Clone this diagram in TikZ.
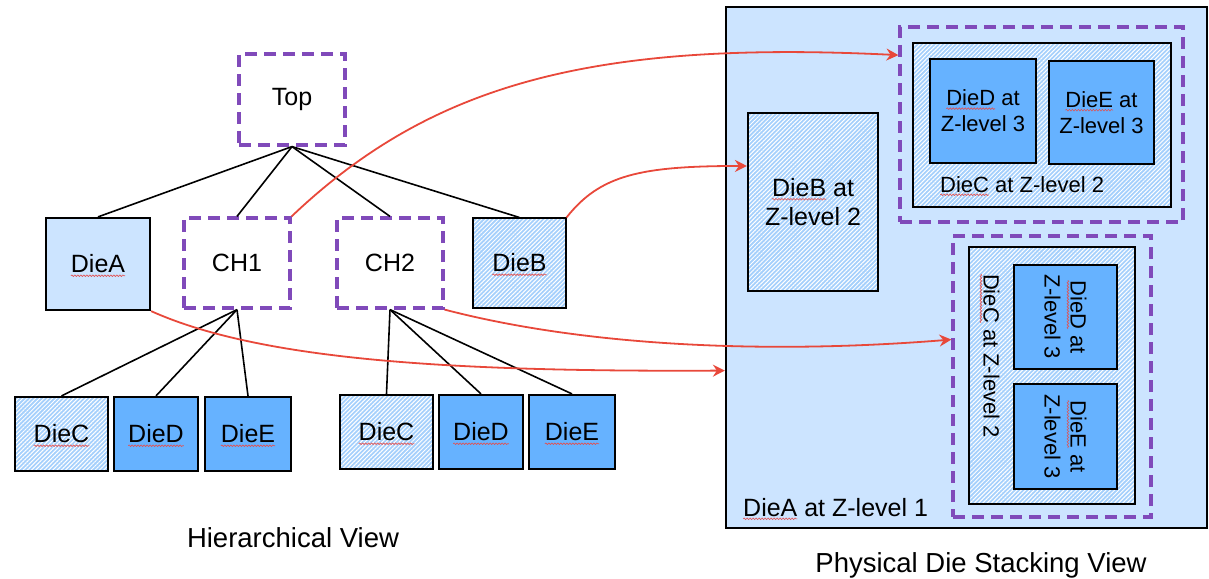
\documentclass[tikz,border=0pt]{standalone}
\usepackage{fontspec}
\setmainfont{Liberation Sans}
\usetikzlibrary{arrows.meta,patterns.meta,decorations.pathmorphing,calc}

\definecolor{paleblue}{RGB}{204,228,255}
\definecolor{dieblue}{RGB}{102,178,255}
\definecolor{hatchblue}{RGB}{165,208,252}
\definecolor{grouppurple}{RGB}{128,74,186}
\definecolor{linkred}{RGB}{232,72,58}
\definecolor{squigred}{RGB}{226,80,80}

% word with a red wavy underline
\newcommand\sq[1]{\tikz[baseline=(w.base)]{%
  \node[shape=rectangle,inner sep=0pt,outer sep=0pt,minimum width=0pt,minimum height=0pt,draw=none,fill=none,anchor=center,align=left](w){#1};%
  \draw[overlay,squigred,line width=0.6pt,decorate,decoration={snake,amplitude=0.8pt,segment length=3pt}]
    ([yshift=-2.8pt]w.base west) -- ([yshift=-2.8pt]w.base east);}}

\tikzset{
  txt/.style={font=\fontsize{25}{29}\selectfont, align=center, inner sep=0pt},
  small/.style={font=\fontsize{22}{26}\selectfont},
  big/.style={font=\fontsize{27.5}{32}\selectfont},
  grp/.style={txt, draw=grouppurple, line width=3.2pt, dash pattern=on 12pt off 7pt},
  plain/.style={txt, draw=black, line width=2.2pt, fill=paleblue},
  soliddie/.style={txt, draw=black, line width=2.2pt, fill=dieblue},
  hatched/.style={txt, draw=black, line width=2.2pt, preaction={fill=hatchblue},
    pattern={Lines[angle=45,distance=3pt,line width=1pt]}, pattern color=white},
  tree/.style={line width=1.6pt},
  link/.style={linkred, line width=1.8pt, -{Stealth[length=12pt,width=12pt,inset=4pt]}}
}

\begin{document}
\begin{tikzpicture}[x=1pt,y=-1pt]
\path[use as bounding box] (0,0) rectangle (1209,578);

% ---------- hierarchical view ----------
\node[grp, minimum width=106pt, minimum height=91pt] (top) at (292,99.5) {Top};
\node[plain, minimum width=104pt, minimum height=92pt] (dieA) at (98,264) {\sq{DieA}};
\node[grp, minimum width=106pt, minimum height=90pt] (ch1) at (237,263) {CH1};
\node[grp, minimum width=106pt, minimum height=90pt] (ch2) at (390,263) {CH2};
\node[hatched, minimum width=93pt, minimum height=90pt] (dieB) at (519.5,263) {\sq{DieB}};

\node[hatched, minimum width=93pt, minimum height=74pt] (c1) at (61.5,434) {\sq{DieC}};
\node[soliddie, minimum width=84pt, minimum height=74pt] (d1) at (156,434) {\sq{DieD}};
\node[soliddie, minimum width=86pt, minimum height=74pt] (e1) at (248,434) {\sq{DieE}};
\node[hatched, minimum width=93pt, minimum height=74pt] (c2) at (386.5,432) {\sq{DieC}};
\node[soliddie, minimum width=84pt, minimum height=74pt] (d2) at (481,432) {\sq{DieD}};
\node[soliddie, minimum width=86pt, minimum height=74pt] (e2) at (572,432) {\sq{DieE}};

\foreach \n in {dieA,ch1,ch2,dieB} \draw[tree] (top.south) -- (\n.north);
\foreach \n in {c1,d1,e1} \draw[tree] (ch1.south) -- (\n.north);
\foreach \n in {c2,d2,e2} \draw[tree] (ch2.south) -- (\n.north);

\node[txt, big, anchor=base] (hlabel) at (293,547) {Hierarchical View};

% ---------- physical stacking view ----------
\node[draw=black, line width=2.2pt, fill=paleblue, minimum width=481pt, minimum height=521pt, inner sep=0pt] (panel) at (966.5,267.5) {};
\node[hatched, minimum width=130pt, minimum height=178pt] (dieBz) at (813,202) {\sq{DieB} at\\Z-level 2};

\node[grp, minimum width=283pt, minimum height=195pt] (grpTop) at (1041.5,124.5) {};
\node[hatched, minimum width=258pt, minimum height=164pt] (cTop) at (1042,125) {};
\node[soliddie, small, minimum width=106pt, minimum height=104pt] (dTop) at (983,111) {\sq{DieD} at\\Z-level 3};
\node[soliddie, small, minimum width=105pt, minimum height=103pt] (eTop) at (1101.5,112.5) {\sq{DieE} at\\Z-level 3};
\node[txt, small, anchor=base west] (cTopLabel) at (940,192) {\sq{DieC} at Z-level 2};

\node[grp, minimum width=198pt, minimum height=281pt] (grpBot) at (1052,376.5) {};
\node[hatched, minimum width=166pt, minimum height=257pt] (cBot) at (1052,375.5) {};
\node[soliddie, small, rotate=-90, minimum width=104pt, minimum height=103pt] (dBot) at (1065.5,317) {\sq{DieD} at\\Z-level 3};
\node[soliddie, small, rotate=-90, minimum width=105pt, minimum height=103pt] (eBot) at (1065.5,436.5) {\sq{DieE} at\\Z-level 3};
\node[txt, small, rotate=-90] (cBotLabel) at (991.5,356) {\sq{DieC} at Z-level 2};

\node[txt, anchor=base west] (aLabel) at (743,516) {\sq{DieA} at Z-level 1};
\node[txt, big, anchor=base] (plabel) at (981,572) {Physical Die Stacking View};

% ---------- mapping arrows ----------
\draw[link] (ch1.north east) .. controls (430,85) and (590,40) .. ($(grpTop.north west)!0.15!(grpTop.south west)$);
\draw[link] (dieB.north east) .. controls (600,175) and (640,166) .. ($(dieBz.north west)!0.3!(dieBz.south west)$);
\draw[link] (ch2.south east) .. controls (580,345) and (760,355) .. ($(grpBot.north west)!0.37!(grpBot.south west)$);
\draw[link] (dieA.south east) .. controls (260,360) and (450,372) .. ($(panel.north west)!0.697!(panel.south west)$);
\end{tikzpicture}
\end{document}
